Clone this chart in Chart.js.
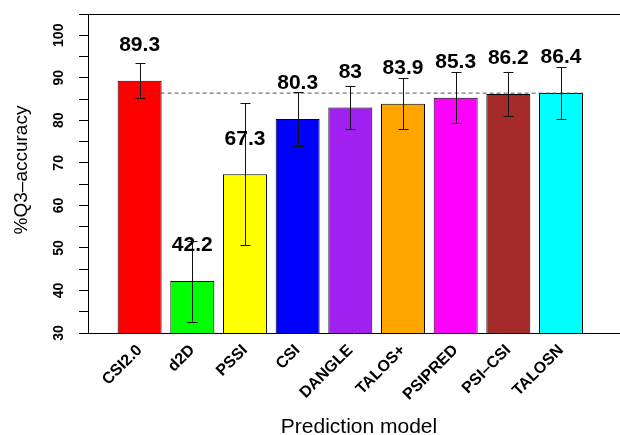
<!DOCTYPE html>
<html>
<head>
<meta charset="utf-8">
<script src="https://cdn.jsdelivr.net/npm/chart.js@4.4.0/dist/chart.umd.min.js"></script>
<style>
  html, body { margin: 0; padding: 0; background: #fff; }
  #wrap { width: 620px; height: 435px; }
</style>
</head>
<body>
<div id="wrap"><canvas id="chart" width="620" height="435"></canvas></div>
<script>
// data
const models = ['CSI2.0', 'd2D', 'PSSI', 'CSI', 'DANGLE', 'TALOS+', 'PSIPRED', 'PSI\u2013CSI', 'TALOSN'];
const accuracy = [89.3, 42.2, 67.3, 80.3, 83, 83.9, 85.3, 86.2, 86.4];
const errors = [4.1, 9.5, 16.7, 6.4, 5.1, 6.05, 6.0, 5.2, 6.1];
const barColors = ['#ff0000', '#00ff00', '#ffff00', '#0000ff', '#a020f0', '#ffa500', '#ff00ff', '#a52a2a', '#00ffff'];
const yLabels = [30, 40, 50, 60, 70, 80, 90, 100];
const refLevel = 86.4; // dashed reference (TALOSN)

const FONT = "'Liberation Sans', Arial, Helvetica, sans-serif";
Chart.defaults.font.family = FONT;
Chart.defaults.color = '#000';

function drawRotated(ctx, text, x, y) {
  ctx.save();
  ctx.translate(x, y);
  ctx.rotate(-Math.PI / 2);
  ctx.fillText(text, 0, 0);
  ctx.restore();
}

// error bars, value labels, rotated y labels, box top, axis titles
const barExtras = {
  id: 'barExtras',
  afterDatasetsDraw(chart) {
    const { ctx, scales: { x, y } } = chart;
    ctx.save();
    ctx.strokeStyle = '#111';
    ctx.lineWidth = 1;
    accuracy.forEach((v, i) => {
      const px = Math.round(x.getPixelForValue(i)) + 0.5;
      const top = y.getPixelForValue(v + errors[i]);
      const bot = y.getPixelForValue(v - errors[i]);
      ctx.beginPath();
      ctx.moveTo(px, top); ctx.lineTo(px, bot);
      ctx.moveTo(px - 5, Math.round(top) + 0.5); ctx.lineTo(px + 5, Math.round(top) + 0.5);
      ctx.moveTo(px - 5, Math.round(bot) + 0.5); ctx.lineTo(px + 5, Math.round(bot) + 0.5);
      ctx.stroke();
    });
    ctx.fillStyle = '#000';
    ctx.font = 'bold 21px ' + FONT;
    ctx.textAlign = 'center';
    ctx.textBaseline = 'alphabetic';
    accuracy.forEach((v, i) => {
      ctx.fillText(String(v), x.getPixelForValue(i), y.getPixelForValue(v + 7));
    });
    ctx.restore();
  },
  afterDraw(chart) {
    const { ctx, chartArea, scales: { y } } = chart;
    ctx.save();
    ctx.strokeStyle = '#000';
    ctx.lineWidth = 1;
    ctx.beginPath();
    ctx.moveTo(chartArea.left, Math.round(chartArea.top) + 0.5);
    ctx.lineTo(chartArea.right, Math.round(chartArea.top) + 0.5);
    ctx.stroke();
    ctx.fillStyle = '#000';
    ctx.textAlign = 'center';
    ctx.textBaseline = 'middle';
    ctx.font = 'bold 14px ' + FONT;
    yLabels.forEach(v => drawRotated(ctx, String(v), 59, y.getPixelForValue(v)));
    ctx.font = '19px ' + FONT;
    drawRotated(ctx, '%Q3\u2013accuracy', 22, 170);
    ctx.font = '21px ' + FONT;
    ctx.textBaseline = 'alphabetic';
    ctx.fillText('Prediction model', 359, 433);
    ctx.restore();
  }
};

new Chart(document.getElementById('chart'), {
  data: {
    datasets: [
      {
        type: 'line',
        data: [{ x: 0, y: refLevel }, { x: models.length - 1 + 0.42, y: refLevel }],
        borderColor: '#555',
        borderWidth: 1,
        borderDash: [4, 3],
        pointRadius: 0,
        order: 0
      },
      {
        type: 'bar',
        data: accuracy.map((v, i) => ({ x: i, y: v })),
        backgroundColor: barColors,
        borderColor: '#000',
        borderWidth: 1,
        borderSkipped: false,
        categoryPercentage: 1,
        barPercentage: 0.835,
        order: 1
      }
    ]
  },
  options: {
    responsive: false,
    animation: false,
    layout: { padding: { top: 14, right: 0, bottom: 0, left: 0 } },
    plugins: { legend: { display: false }, tooltip: { enabled: false } },
    scales: {
      x: {
        type: 'linear',
        offset: false,
        min: -0.98,
        max: 9.12,
        afterBuildTicks: s => { s.ticks = models.map((m, i) => ({ value: i })); },
        afterFit: s => { s.height = 102; s.paddingLeft = 0; s.paddingRight = 0; },
        grid: { display: true, drawOnChartArea: false, drawTicks: false },
        border: { display: true, color: '#000', width: 1 },
        ticks: {
          autoSkip: false,
          minRotation: 45,
          maxRotation: 45,
          padding: 8,
          labelOffset: 0,
          font: { size: 16, weight: 'bold' },
          callback: v => models[v]
        }
      },
      y: {
        min: 30,
        max: 105,
        afterFit: s => { s.width = 88; s.paddingTop = 0; s.paddingBottom = 0; },
        grid: { drawOnChartArea: false, color: '#000', tickLength: 9, tickWidth: 1 },
        border: { display: true, color: '#000', width: 1 },
        ticks: {
          stepSize: 5,
          autoSkip: false,
          padding: 0,
          callback: () => ''
        }
      }
    }
  },
  plugins: [barExtras]
});
</script>
</body>
</html>
